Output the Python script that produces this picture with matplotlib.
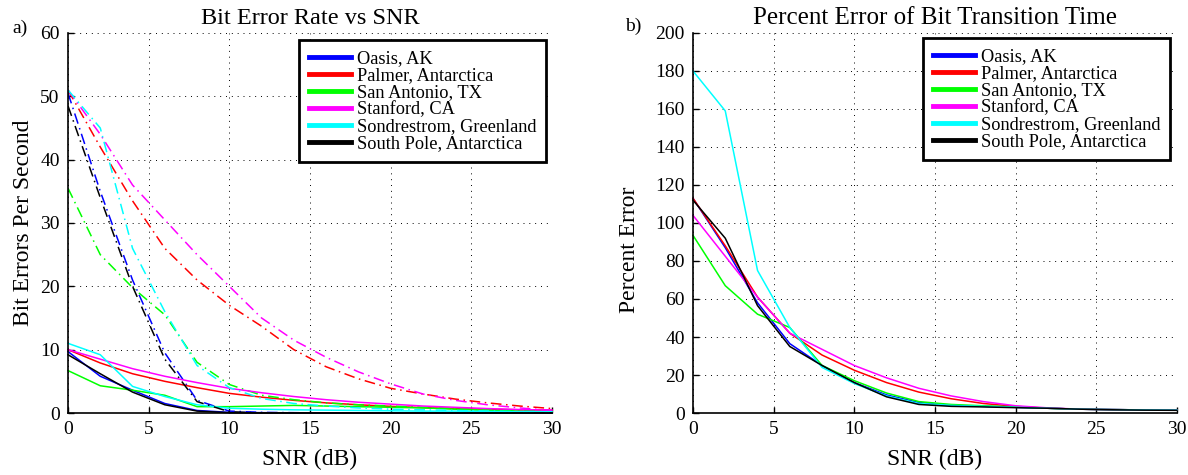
"""
Bit error rate / bit transition time error vs SNR, two panels.
"""
import matplotlib

matplotlib.use("Agg")
import matplotlib.pyplot as plt
import numpy as np

plt.rcParams["font.family"] = ["Liberation Serif", "DejaVu Serif"]

SNR = np.arange(0, 31, 2)

STATIONS = ["Oasis, AK", "Palmer, Antarctica", "San Antonio, TX",
            "Stanford, CA", "Sondrestrom, Greenland", "South Pole, Antarctica"]
COLORS = ["#0000ff", "#ff0000", "#00ff00", "#ff00ff", "#00ffff", "#000000"]

# a) bit errors per second, solid lines
ber_oasis = [9.7, 5.8, 3.6, 1.5, 0.4, 0.1, 0.05, 0.02, 0, 0, 0, 0, 0, 0, 0, 0]
ber_palmer = [10.0, 7.9, 6.2, 5.0, 4.0, 3.1, 2.5, 2.0, 1.6, 1.3, 1.05, 0.85, 0.7, 0.6, 0.5, 0.45]
ber_sanantonio = [6.7, 4.3, 3.6, 2.8, 1.0, 1.0, 1.1, 1.2, 1.1, 1.0, 0.9, 0.8, 0.6, 0.4, 0.3, 0.2]
ber_stanford = [10.0, 8.5, 7.0, 5.8, 4.8, 3.9, 3.2, 2.6, 2.1, 1.7, 1.4, 1.1, 0.9, 0.7, 0.55, 0.45]
ber_sondrestrom = [11.0, 9.2, 4.2, 2.6, 1.3, 0.75, 0.6, 0.5, 0.45, 0.4, 0.35, 0.3, 0.3, 0.25, 0.2, 0.2]
ber_southpole = [9.2, 6.2, 3.3, 1.3, 0.3, 0.05, 0, 0, 0, 0, 0, 0, 0, 0, 0, 0]

# a) bit errors per second, dash-dot lines
ber2_oasis = [50.5, 35.0, 21.0, 9.5, 2.0, 0.3, 0.1, 0.05, 0, 0, 0, 0, 0, 0, 0, 0]
ber2_palmer = [51.0, 42.0, 33.5, 26.0, 21.0, 17.0, 13.7, 10.0, 7.3, 5.4, 3.9, 3.0, 2.2, 1.6, 1.1, 0.7]
ber2_sanantonio = [35.5, 25.0, 19.8, 15.5, 8.0, 4.5, 2.8, 2.1, 1.6, 1.3, 1.1, 0.9, 0.7, 0.5, 0.4, 0.3]
ber2_stanford = [51.0, 44.0, 36.0, 30.5, 25.0, 20.0, 15.0, 11.5, 8.8, 6.5, 4.6, 3.0, 2.0, 1.3, 0.8, 0.4]
ber2_sondrestrom = [51.0, 45.0, 26.0, 16.0, 7.5, 4.0, 2.3, 1.5, 1.1, 0.8, 0.6, 0.5, 0.4, 0.3, 0.2, 0.2]
ber2_southpole = [48.5, 34.0, 20.0, 8.5, 1.8, 0.2, 0, 0, 0, 0, 0, 0, 0, 0, 0, 0]

# b) percent error of bit transition time
pe_oasis = [113, 87, 58, 36.5, 25, 16, 9.5, 5.5, 4, 3.5, 3, 2.5, 2, 1.8, 1.6, 1.5]
pe_palmer = [113, 88, 61, 42, 30.5, 22.5, 16, 11, 7.5, 5, 3.5, 2.5, 2, 1.8, 1.6, 1.5]
pe_sanantonio = [93.5, 67, 52, 45, 25, 17, 10.5, 6, 4.5, 3.8, 3.2, 2.5, 2, 1.8, 1.6, 1.5]
pe_stanford = [104, 82.5, 61, 42, 33.5, 25, 18.5, 13, 9, 6, 3.8, 2.7, 2, 1.8, 1.6, 1.5]
pe_sondrestrom = [180, 159, 75, 45, 24, 15.5, 9, 5, 4, 3.5, 3, 2.5, 2, 1.8, 1.6, 1.5]
pe_southpole = [112, 92, 56.5, 35, 25, 16, 8.5, 4.5, 3.5, 3.2, 2.8, 2.5, 2, 1.7, 1.5, 1.4]

ber_solid = [ber_oasis, ber_palmer, ber_sanantonio, ber_stanford, ber_sondrestrom, ber_southpole]
ber_dash = [ber2_oasis, ber2_palmer, ber2_sanantonio, ber2_stanford, ber2_sondrestrom, ber2_southpole]
pct_err = [pe_oasis, pe_palmer, pe_sanantonio, pe_stanford, pe_sondrestrom, pe_southpole]

W, H = 1188, 475
AX_TOP, AX_BOTTOM = 33, 413
DASHDOT = (0, (7, 3, 1, 3))
GRID = dict(color="black", linestyle=(0, (1, 5)), linewidth=0.7)


def style_axes(ax, ymax, ystep):
    ax.set_xlim(0, 30)
    ax.set_ylim(0, ymax)
    ax.set_xticks(range(0, 31, 5))
    ax.set_yticks(range(0, ymax + 1, ystep))
    ax.tick_params(direction="in", labelsize=14, length=4, width=1, pad=6)
    for side in ("top", "right"):
        ax.spines[side].set_visible(False)
    for side in ("left", "bottom"):
        ax.spines[side].set_linewidth(1.2)
    ax.grid(True, **GRID)
    ax.set_xlabel("SNR (dB)", fontsize=17)
    ax.xaxis.set_label_coords(0.5, (AX_BOTTOM - 449) / (AX_BOTTOM - AX_TOP))


def add_legend(ax, ax_left_px, box_left_px, box_top_px):
    handles = [plt.Line2D([], [], color=c, lw=3.5) for c in COLORS]
    ax_w = 484
    anchor = ((box_left_px - ax_left_px) / ax_w,
              (AX_BOTTOM - box_top_px) / (AX_BOTTOM - AX_TOP))
    leg = ax.legend(handles, STATIONS, loc="upper left", bbox_to_anchor=anchor,
                    borderaxespad=0, fontsize=13.2, handlelength=2.3, handletextpad=0.3,
                    labelspacing=0.0, fancybox=False, framealpha=1, borderpad=0.55)
    leg.get_frame().set_edgecolor("black")
    leg.get_frame().set_linewidth(2)


fig = plt.figure(figsize=(W / 100, H / 100), dpi=100)
ax_h = (AX_BOTTOM - AX_TOP) / H
ax1 = fig.add_axes([68 / W, 1 - AX_BOTTOM / H, 484 / W, ax_h])
ax2 = fig.add_axes([693 / W, 1 - AX_BOTTOM / H, 484 / W, ax_h])

for ys, ys2, c in zip(ber_solid, ber_dash, COLORS):
    ax1.plot(SNR, ys, color=c, lw=1.1, clip_on=False)
    ax1.plot(SNR, ys2, color=c, lw=1.1, linestyle=DASHDOT)
style_axes(ax1, 60, 10)
ax1.set_title("Bit Error Rate vs SNR", fontsize=17.5, pad=6.5)
ax1.set_ylabel("Bit Errors Per Second", fontsize=17)
ax1.yaxis.set_label_coords((34 - 68) / 484, 0.5)
add_legend(ax1, 68, 299, 40)

for ys, c in zip(pct_err, COLORS):
    ax2.plot(SNR, ys, color=c, lw=1.1, clip_on=False)
style_axes(ax2, 200, 20)
ax2.set_title("Percent Error of Bit Transition Time", fontsize=18, pad=6.5)
ax2.set_ylabel("Percent Error", fontsize=17)
ax2.yaxis.set_label_coords((640 - 693) / 484, 0.43)
add_legend(ax2, 693, 923, 38)

fig.text(12 / W, 1 - 28 / H, "a)", fontsize=14, va="center", ha="left")
fig.text(625 / W, 1 - 26 / H, "b)", fontsize=14, va="center", ha="left")

fig.savefig("out.png", dpi=100)
